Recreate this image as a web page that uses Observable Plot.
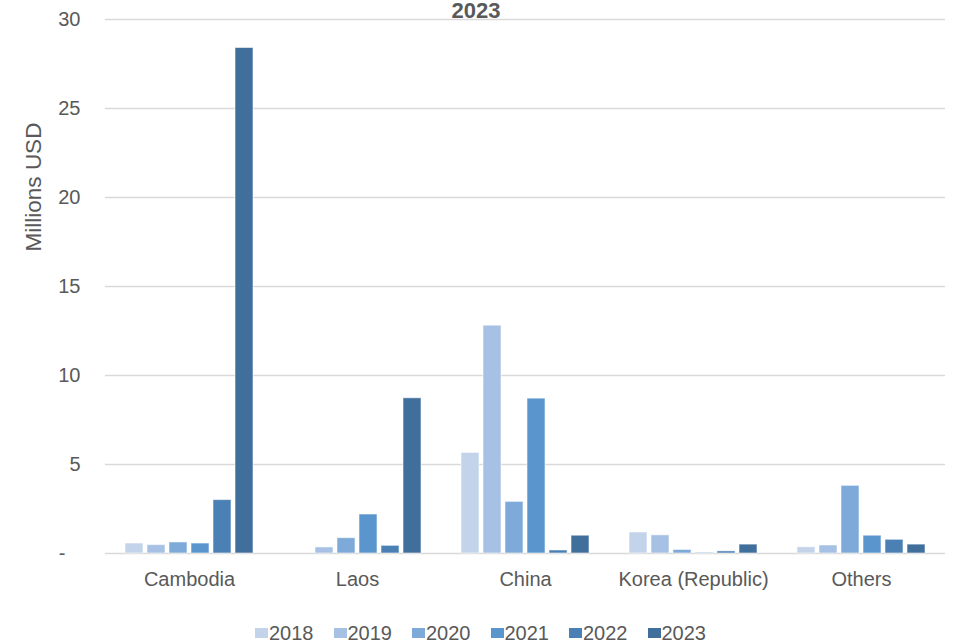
<!DOCTYPE html>
<html>
<head>
<meta charset="utf-8">
<script src="https://cdn.jsdelivr.net/npm/d3@7"></script>
<script src="https://cdn.jsdelivr.net/npm/@observablehq/plot@0.6"></script>
<style>
  html, body { margin: 0; padding: 0; background: #fff; }
  #wrap { position: relative; width: 955px; height: 644px; overflow: hidden;
          font-family: "Liberation Sans", Arial, sans-serif; color: #595959; }
  #title { position: absolute; left: 0; width: 952px; top: 0px; text-align: center;
           font-size: 22px; line-height: 22px; font-weight: bold; z-index: 2; }
  #ylabel { position: absolute; left: 33.5px; top: 187px; font-size: 22.5px; line-height: 22.5px;
            white-space: nowrap; transform: translate(-50%, -50%) rotate(-90deg); }
  #legend { display: flex; justify-content: center; align-items: center; gap: 20px;
            margin-top: 21px; padding-left: 6px; font-size: 20px; line-height: 24px; }
  .item { display: flex; align-items: center; gap: 1px; }
  .sw { width: 13px; height: 10px; display: inline-block; }
</style>
</head>
<body>
<div id="wrap">
  <div id="chart"></div>
  <div id="legend"></div>
  <div id="title">2023</div>
  <div id="ylabel">Millions USD</div>
</div>
<script>
// Destinations along the x axis and the years shown in each group
const countries = ["Cambodia", "Laos", "China", "Korea (Republic)", "Others"];
const years = ["2018", "2019", "2020", "2021", "2022", "2023"];

// Values in millions of USD, one array per year, in the order of `countries`
const v2018 = [0.56, 0, 5.65, 1.18, 0.35];
const v2019 = [0.47, 0.34, 12.8, 1.02, 0.45];
const v2020 = [0.62, 0.86, 2.9, 0.2, 3.8];
const v2021 = [0.56, 2.19, 8.7, 0.03, 1.0];
const v2022 = [3.0, 0.43, 0.17, 0.12, 0.77];
const v2023 = [28.4, 8.72, 1.0, 0.5, 0.5];

const yTicks = [0, 5, 10, 15, 20, 25, 30];
const yearColors = ["#c3d4ea", "#a6c1e4", "#7eaad9", "#5a96cd", "#4b80b4", "#416f9c"];

const series = [v2018, v2019, v2020, v2021, v2022, v2023];
const data = [];
years.forEach((year, i) => {
  countries.forEach((country, j) => {
    data.push({country, year, value: series[i][j]});
  });
});

const chart = Plot.plot({
  width: 955,
  height: 600,
  marginTop: 19,
  marginBottom: 47,
  marginLeft: 105,
  marginRight: 10,
  style: {fontFamily: "'Liberation Sans', Arial, sans-serif", fontSize: "20px", color: "#595959", background: "#fff"},
  fx: {domain: countries, padding: 0, label: null},
  x: {domain: years, paddingInner: 0.2, paddingOuter: 0.83, axis: null},
  y: {domain: [0, 30], label: null},
  color: {domain: years, range: yearColors},
  marks: [
    Plot.gridY(yTicks, {stroke: "#d9d9d9", strokeOpacity: 1, strokeWidth: 1.3}),
    Plot.barY(data, {fx: "country", x: "year", y: "value", fill: "year",
                     stroke: "white", strokeOpacity: 0.55, strokeWidth: 1}),
    Plot.axisY(yTicks, {tickSize: 0, tickPadding: 25, label: null,
                        tickFormat: d => d === 0 ? "-\u2007\u2009" : String(d)}),
    Plot.axisFx({anchor: "bottom", tickSize: 0, tickPadding: 18, label: null})
  ]
});
document.getElementById("chart").appendChild(chart);

// Legend row built from the same years and colours
const legend = d3.select("#legend");
years.forEach((year, i) => {
  const item = legend.append("div").attr("class", "item");
  item.append("span").attr("class", "sw").style("background", yearColors[i]);
  item.append("span").text(year);
});
</script>
</body>
</html>
